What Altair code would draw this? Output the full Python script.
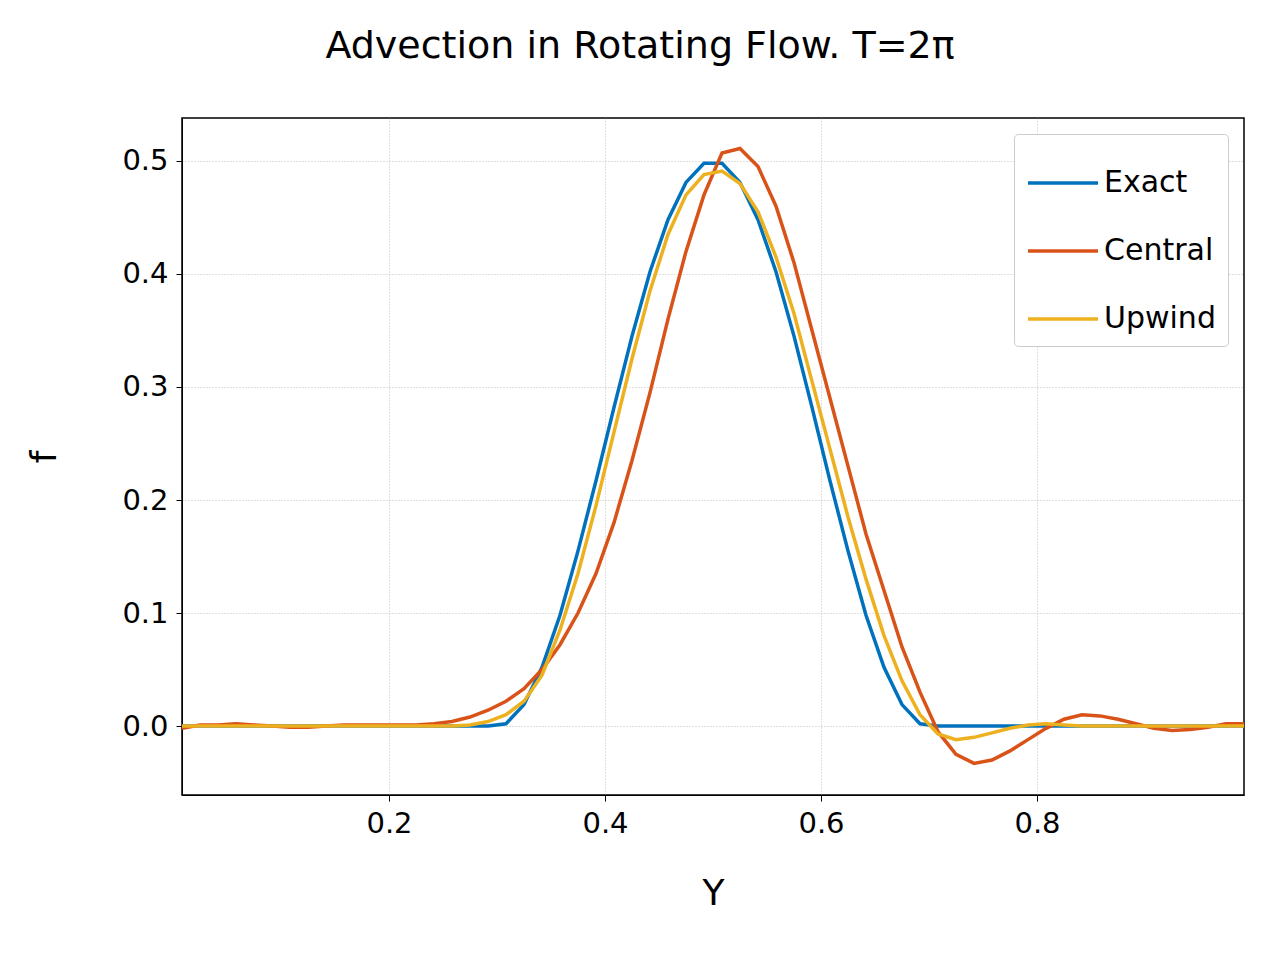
import altair as alt
import pandas as pd

n = 60
ys = [(i + 0.5) / n for i in range(n)]

exact = [0.0] * 18 + [
    0.002, 0.019, 0.052, 0.098, 0.155, 0.217, 0.282, 0.345, 0.402, 0.448, 0.481, 0.498,
    0.498, 0.481, 0.448, 0.402, 0.345, 0.282, 0.217, 0.155, 0.098, 0.052, 0.019, 0.002,
] + [0.0] * 18

central = [
    -0.002, 0.001, 0.001, 0.002, 0.001, 0.0, -0.001, -0.001, 0.0, 0.001,
    0.001, 0.001, 0.001, 0.001, 0.002, 0.004, 0.008, 0.014, 0.022, 0.033,
    0.05, 0.072, 0.1, 0.135, 0.18, 0.235, 0.295, 0.36, 0.42, 0.47,
    0.507, 0.511, 0.495, 0.46, 0.41, 0.35, 0.29, 0.23, 0.17, 0.12,
    0.07, 0.03, -0.005, -0.025, -0.033, -0.03, -0.022, -0.012, -0.002, 0.006,
    0.01, 0.009, 0.006, 0.002, -0.002, -0.004, -0.003, -0.001, 0.002, 0.002,
]

upwind = [0.0] * 16 + [
    0.001, 0.004, 0.01, 0.022, 0.045, 0.085, 0.135, 0.195, 0.26, 0.325,
    0.385, 0.435, 0.47, 0.488, 0.491, 0.48, 0.455, 0.415, 0.365, 0.305,
    0.245, 0.185, 0.13, 0.08, 0.04, 0.01, -0.007, -0.012, -0.01, -0.006,
    -0.002, 0.001, 0.002, 0.001,
] + [0.0] * 10

series = ["Exact", "Central", "Upwind"]
colors = ["#0072BD", "#D95319", "#EDB120"]

rows = []
for name, vals in zip(series, [exact, central, upwind]):
    for y, f in zip(ys, vals):
        rows.append({"Y": y, "f": f, "method": name})
df = pd.DataFrame(rows)

font = "DejaVu Sans"

chart = alt.Chart(df).mark_line(strokeWidth=3.5).encode(
    x=alt.X("Y:Q", title="Y",
            scale=alt.Scale(domain=[ys[0], ys[-1]], nice=False, zero=False),
            axis=alt.Axis(values=[0.2, 0.4, 0.6, 0.8], format=".1f",
                          labelPadding=8, titlePadding=38)),
    y=alt.Y("f:Q", title="f",
            scale=alt.Scale(domain=[-0.061, 0.538], nice=False, zero=False),
            axis=alt.Axis(values=[0, 0.1, 0.2, 0.3, 0.4, 0.5], format=".1f",
                          labelPadding=8, titlePadding=58)),
    color=alt.Color("method:N", sort=series, title=None,
                    scale=alt.Scale(domain=series, range=colors),
                    legend=alt.Legend(orient="top-right", symbolType="stroke",
                                      symbolStrokeWidth=3.5, symbolSize=4900,
                                      labelFontSize=30, labelFont=font,
                                      rowPadding=16, padding=12, offset=16,
                                      strokeColor="#cccccc", cornerRadius=4,
                                      fillColor="white")),
).properties(
    width=1062, height=677,
    title=alt.TitleParams("Advection in Rotating Flow. T=2π", fontSize=38,
                          font=font, fontWeight="normal", offset=52, dx=-73),
    autosize=alt.AutoSizeParams(type="none"),
    padding={"left": 174, "top": 110, "right": 28, "bottom": 150},
).configure_axis(
    labelFont=font, titleFont=font, labelFontSize=29, titleFontSize=36,
    titleFontWeight="normal", labelColor="black", titleColor="black",
    domainColor="black", tickColor="black", tickSize=6,
    gridColor="#b0b0b0", gridDash=[1, 2], gridWidth=0.8,
).configure_axisY(titleAngle=-90).configure_view(stroke="black", strokeWidth=1.5)

chart.save("out.html", embed_options={"renderer": "svg", "actions": False})
